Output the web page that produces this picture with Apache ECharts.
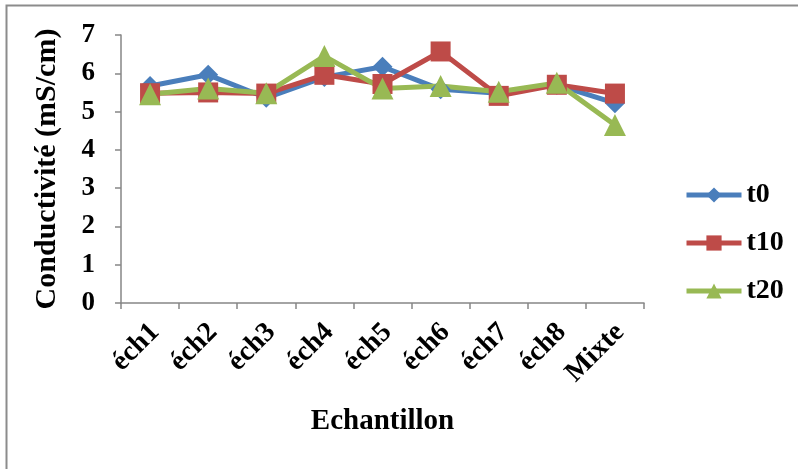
<!DOCTYPE html>
<html><head><meta charset="utf-8">
<script src="https://cdn.jsdelivr.net/npm/echarts@6/dist/echarts.min.js"></script>
<style>html,body{margin:0;padding:0;background:#fff}#c{width:798px;height:469px}</style>
</head><body><div id="c"></div>
<script>
const categories = ['éch1','éch2','éch3','éch4','éch5','éch6','éch7','éch8','Mixte'];
const t0 = [5.67, 5.96, 5.36, 5.9, 6.17, 5.58, 5.48, 5.7, 5.22];
const t10 = [5.48, 5.5, 5.47, 5.96, 5.72, 6.57, 5.41, 5.7, 5.47];
const t20 = [5.45, 5.6, 5.48, 6.45, 5.6, 5.67, 5.52, 5.75, 4.65];
const yTicks = [0,1,2,3,4,5,6,7];
const font = '"Liberation Serif","Times New Roman",serif';
const chart = echarts.init(document.getElementById('c'));
function s(name, data, color, symbol, size){
  return {name, type:'line', data, symbol, symbolSize:size,
    lineStyle:{color, width:5}, itemStyle:{color}, emphasis:{disabled:true}};
}
chart.setOption({
  animation:false,
  graphic:[{type:'rect', shape:{x:6.5,y:5.5,width:820,height:480}, style:{fill:'none',stroke:'#8c8c8c',lineWidth:2}}],
  grid:{left:121, right:154, top:35, bottom:166},
  legend:{orient:'vertical', left:679, top:176, itemGap:20, itemWidth:55, itemHeight:19,
    lineStyle:{width:5}, padding:5,
    textStyle:{fontFamily:font, fontWeight:'bold', fontSize:28, color:'#000'},
    data:['t0','t10','t20']},
  xAxis:{type:'category', data:categories, boundaryGap:true,
    name:'Echantillon', nameLocation:'middle', nameGap:104,
    nameTextStyle:{fontFamily:font, fontWeight:'bold', fontSize:29, color:'#000'},
    axisLine:{lineStyle:{color:'#868686', width:1.5}},
    axisTick:{show:true, length:6, alignWithLabel:false, lineStyle:{color:'#868686', width:1.5}},
    axisLabel:{rotate:45, fontFamily:font, fontWeight:'bold', fontSize:28, color:'#000', margin:30,
      padding:[0,-7,0,0]}},
  yAxis:{type:'value', min:0, max:7, interval:1,
    name:'Conductivité (mS/cm)', nameLocation:'middle', nameGap:59,
    nameTextStyle:{fontFamily:font, fontWeight:'bold', fontSize:30, color:'#000'},
    axisLine:{show:true, lineStyle:{color:'#868686', width:1.5}},
    axisTick:{show:true, length:6, lineStyle:{color:'#868686', width:1.5}},
    splitLine:{show:false},
    axisLabel:{fontFamily:font, fontWeight:'bold', fontSize:27, color:'#000', margin:26,
      formatter:v=>yTicks.includes(v)?String(v):''}},
  series:[
    s('t0', t0, '#4A7EBB', 'diamond', 20),
    s('t10', t10, '#BE4B48', 'rect', 20),
    s('t20', t20, '#98B954', 'triangle', 22)
  ]
});
</script></body></html>
